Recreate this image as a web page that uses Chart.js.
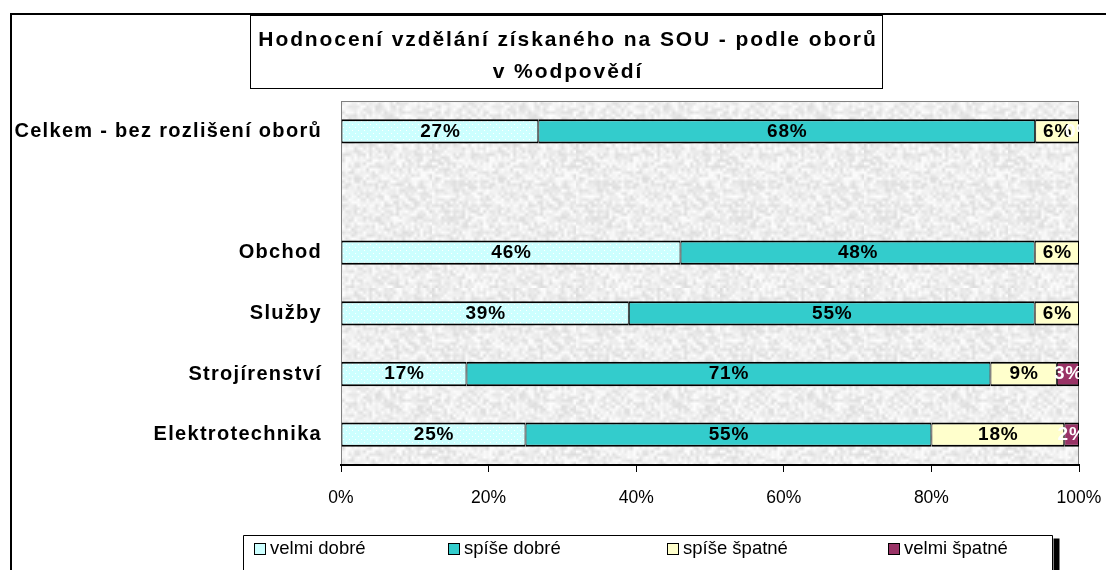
<!DOCTYPE html>
<html lang="cs">
<head>
<meta charset="UTF-8">
<title>Hodnocení vzdělání získaného na SOU - podle oborů</title>
<script src="https://cdn.jsdelivr.net/npm/chart.js@4.4.0/dist/chart.umd.min.js"></script>
<style>
  html, body { margin: 0; padding: 0; background: #fff; }
  #wrap { width: 1106px; height: 570px; }
</style>
</head>
<body>
<div id="wrap"><canvas id="chart" width="1106" height="570"></canvas></div>
<script>
// data (% odpovědí), one array per rating
const categories = ['Celkem - bez rozlišení oborů', '', 'Obchod', 'Služby', 'Strojírenství', 'Elektrotechnika'];
const seriesNames = ['velmi dobré', 'spíše dobré', 'spíše špatné', 'velmi špatné'];
const velmiDobre  = [27, null, 46, 39, 17, 25];
const spiseDobre  = [68, null, 48, 55, 71, 55];
const spiseSpatne = [6,  null, 6,  6,  9,  18];
const velmiSpatne = [0,  null, null, null, 3, 2];
const xTicks = [0, 20, 40, 60, 80, 100];
const titleLines = ['Hodnocení vzdělání získaného na SOU - podle oborů', 'v %odpovědí'];

const FONT = "'Liberation Sans', Arial, sans-serif";
const fills = ['#CCFFFF', '#33CCCC', '#FFFFCC', '#993366'];
const labelColors = ['#000', '#000', '#000', '#fff'];

// 100% stacked like Excel: each row is scaled to its total
const seriesValues = [velmiDobre, spiseDobre, spiseSpatne, velmiSpatne];
const totals = categories.map((c, i) => seriesValues.reduce((s, arr) => s + (arr[i] || 0), 0));

// dotted fill for "velmi dobré"
function dotPattern() {
  const t = document.createElement('canvas');
  t.width = 6; t.height = 6;
  const c = t.getContext('2d');
  c.fillStyle = fills[0];
  c.fillRect(0, 0, 6, 6);
  c.fillStyle = '#ffffff';
  c.fillRect(1, 1, 1, 1);
  c.fillRect(4, 4, 1, 1);
  return c.createPattern(t, 'repeat');
}

// grey paper texture for the plot area (deterministic hash, no randomness)
function hash(x, y) {
  const s = Math.sin(x * 12.9898 + y * 78.233) * 43758.5453;
  return s - Math.floor(s);
}
function paperPattern() {
  const n = 48;
  const small = document.createElement('canvas');
  small.width = n; small.height = n;
  const sc = small.getContext('2d');
  const img = sc.createImageData(n, n);
  for (let y = 0; y < n; y++) {
    for (let x = 0; x < n; x++) {
      const g = Math.round(221 + hash(x, y) * 33);
      const p = (y * n + x) * 4;
      img.data[p] = g; img.data[p + 1] = g; img.data[p + 2] = g; img.data[p + 3] = 255;
    }
  }
  sc.putImageData(img, 0, 0);
  const tile = document.createElement('canvas');
  tile.width = n * 3; tile.height = n * 3;
  const tc = tile.getContext('2d');
  tc.imageSmoothingEnabled = true;
  tc.drawImage(small, 0, 0, n * 3, n * 3);
  return tc.createPattern(tile, 'repeat');
}

const frame = {
  id: 'frame',
  beforeDraw(chart) {
    const ctx = chart.ctx, a = chart.chartArea;
    ctx.save();
    ctx.fillStyle = '#fff';
    ctx.fillRect(0, 0, chart.width, chart.height);
    // outer chart border
    ctx.strokeStyle = '#000';
    ctx.lineWidth = 2;
    ctx.beginPath();
    ctx.moveTo(11, chart.height);
    ctx.lineTo(11, 14);
    ctx.lineTo(chart.width, 14);
    ctx.stroke();
    // title box
    ctx.lineWidth = 1;
    ctx.strokeRect(250.5, 15.5, 632, 73);
    ctx.fillStyle = '#000';
    ctx.font = 'bold 21px ' + FONT;
    ctx.letterSpacing = '1.9px';
    ctx.textAlign = 'center';
    ctx.textBaseline = 'middle';
    ctx.fillText(titleLines[0], 568, 40);
    ctx.fillText(titleLines[1], 568, 72);
    ctx.restore();
    // plot area
    ctx.save();
    ctx.fillStyle = paperPattern();
    ctx.fillRect(a.left, a.top, a.right - a.left, a.bottom - a.top);
    ctx.strokeStyle = '#808080';
    ctx.lineWidth = 1;
    ctx.strokeRect(a.left + 0.5, a.top + 0.5, a.right - a.left - 1, a.bottom - a.top);
    ctx.restore();
  },
  afterLayout(chart) {
    // bold category labels get the wider Excel spacing
    const y = chart.scales.y;
    if (!y._spaced) {
      const orig = y.drawLabels.bind(y);
      y.drawLabels = (area) => {
        chart.ctx.save();
        chart.ctx.letterSpacing = '1.3px';
        orig(area);
        chart.ctx.restore();
      };
      y._spaced = true;
    }
  }
};

const valueLabels = {
  id: 'valueLabels',
  afterDatasetsDraw(chart) {
    const ctx = chart.ctx, a = chart.chartArea;
    ctx.save();
    ctx.beginPath();
    ctx.rect(a.left, a.top, a.right - a.left, a.bottom - a.top);
    ctx.clip();
    ctx.font = 'bold 19px ' + FONT;
    ctx.letterSpacing = '0.8px';
    ctx.textAlign = 'center';
    ctx.textBaseline = 'middle';
    chart.data.datasets.forEach((ds, di) => {
      chart.getDatasetMeta(di).data.forEach((el, i) => {
        const raw = seriesValues[di][i];
        if (raw === null) return;
        ctx.fillStyle = labelColors[di];
        ctx.fillText(raw + '%', (el.x + el.base) / 2 + 0.5, el.y);
      });
    });
    ctx.restore();
  }
};

const legendBox = {
  id: 'legendBox',
  afterDraw(chart) {
    const ctx = chart.ctx;
    const left = 243.5, top = 535.5, right = 1052.5;
    ctx.save();
    ctx.fillStyle = '#000';
    ctx.fillRect(right + 1, top + 3, 6, chart.height - top);
    ctx.strokeStyle = '#000';
    ctx.lineWidth = 1;
    ctx.beginPath();
    ctx.moveTo(left, chart.height);
    ctx.lineTo(left, top);
    ctx.lineTo(right, top);
    ctx.lineTo(right, chart.height);
    ctx.stroke();
    const xs = [254, 448, 667, 888];
    ctx.font = '18.5px ' + FONT;
    ctx.textBaseline = 'middle';
    ctx.textAlign = 'left';
    chart.data.datasets.forEach((ds, i) => {
      ctx.fillStyle = fills[i];
      ctx.fillRect(xs[i], 543, 12, 12);
      ctx.strokeStyle = '#000';
      ctx.strokeRect(xs[i] + 0.5, 543.5, 11, 11);
      ctx.fillStyle = '#000';
      ctx.fillText(ds.label, xs[i] + 16, 549);
    });
    ctx.restore();
  }
};

const dots = dotPattern();

new Chart(document.getElementById('chart'), {
  type: 'bar',
  data: {
    labels: categories,
    datasets: seriesValues.map((arr, k) => ({
      label: seriesNames[k],
      data: arr.map((v, i) => v === null ? null : v / totals[i] * 100),
      backgroundColor: k === 0 ? dots : fills[k],
      borderColor: '#000',
      borderWidth: { top: 2, bottom: 2, left: 1, right: 1 },
      borderSkipped: false,
      categoryPercentage: 1,
      barPercentage: 0.4
    }))
  },
  options: {
    indexAxis: 'y',
    responsive: false,
    animation: false,
    devicePixelRatio: 1,
    layout: { padding: { top: 101, right: 27, bottom: 60, left: 0 } },
    plugins: {
      legend: { display: false },
      title: { display: false },
      tooltip: { enabled: false }
    },
    scales: {
      x: {
        stacked: true,
        min: 0,
        max: 100,
        afterBuildTicks(scale) { scale.ticks = xTicks.map(v => ({ value: v })); },
        afterFit(scale) {
          scale.height = 45;
          scale.paddingLeft = 0;
          scale.paddingRight = 0;
        },
        ticks: {
          callback: v => v + '%',
          color: '#000',
          font: { family: FONT, size: 17.5 },
          padding: 16,
          maxRotation: 0
        },
        grid: { drawOnChartArea: false, drawTicks: true, tickLength: 7, color: '#000', lineWidth: 1 },
        border: { display: true, color: '#000', width: 2 }
      },
      y: {
        stacked: true,
        afterFit(scale) { scale.width = 341; },
        ticks: {
          color: '#000',
          font: { family: FONT, size: 20, weight: 'bold' },
          padding: 11,
          autoSkip: false
        },
        grid: { display: false },
        border: { display: false }
      }
    }
  },
  plugins: [frame, valueLabels, legendBox]
});
</script>
</body>
</html>
